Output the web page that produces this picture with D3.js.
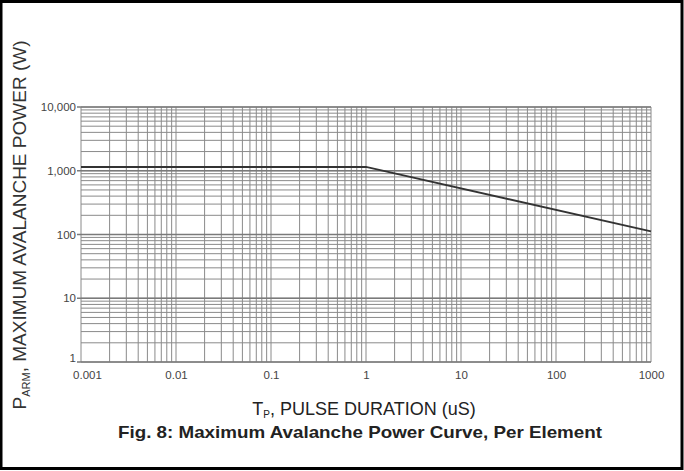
<!DOCTYPE html>
<html><head><meta charset="utf-8">
<script src="https://cdn.jsdelivr.net/npm/d3@7/dist/d3.min.js"></script>
<style>
html,body{margin:0;padding:0;background:#fff;}
svg{display:block;}
text{font-family:"Liberation Sans",Arial,sans-serif;}
</style></head>
<body>
<svg id="c" width="684" height="471"></svg>
<script>
// Data
const pulseDuration = [0.001, 1, 1000];      // uS
const avalanchePower = [1150, 1150, 112];     // W
const xTickValues = [0.001, 0.01, 0.1, 1, 10, 100, 1000];
const xTickLabels = ["0.001", "0.01", "0.1", "1", "10", "100", "1000"];
const yTickValues = [1, 10, 100, 1000, 10000];
const yTickLabels = ["1", "10", "100", "1,000", "10,000"];

(function () {
const svg = d3.select("#c");
const pl = 81, pr = 651, pt = 107, pb = 362;

const x = d3.scaleLog().domain([0.001, 1000]).range([pl, pr]);
const y = d3.scaleLog().domain([1, 10000]).range([pb, pt]);

// border
svg.append("rect").attr("x", 1).attr("y", 1.5).attr("width", 681).attr("height", 467)
  .attr("fill", "none").attr("stroke", "#000").attr("stroke-width", 3);

// grid lines
const minorX = [], minorY = [];
for (let e = -3; e < 3; e++) for (let m = 1; m <= 9; m++) minorX.push(m * Math.pow(10, e));
minorX.push(1000);
for (let e = 0; e < 4; e++) for (let m = 1; m <= 9; m++) minorY.push(m * Math.pow(10, e));
minorY.push(10000);

const g = svg.append("g");
g.selectAll("line.vx").data(minorX).enter().append("line")
  .attr("x1", d => x(d)).attr("x2", d => x(d)).attr("y1", pt).attr("y2", pb)
  .attr("stroke", "#8a8a8a").attr("stroke-width", 1);
g.selectAll("line.hy").data(minorY).enter().append("line")
  .attr("y1", d => y(d)).attr("y2", d => y(d)).attr("x1", pl).attr("x2", pr)
  .attr("stroke", "#8a8a8a").attr("stroke-width", 1);
g.selectAll("line.my").data(yTickValues).enter().append("line")
  .attr("y1", d => y(d)).attr("y2", d => y(d)).attr("x1", pl - 4).attr("x2", pr)
  .attr("stroke", "#7a7a7a").attr("stroke-width", 1.5);

// axes
const xAxis = d3.axisBottom(x).tickValues(xTickValues)
  .tickFormat((d, i) => xTickLabels[i]).tickSize(0).tickPadding(9);
const yAxis = d3.axisLeft(y).tickValues(yTickValues)
  .tickFormat((d, i) => yTickLabels[i]).tickSize(0).tickPadding(4);
const gx = svg.append("g").attr("transform", `translate(0,${pb})`).call(xAxis);
const gy = svg.append("g").attr("transform", `translate(${pl - 1},0)`).call(yAxis);
[gx, gy].forEach(a => {
  a.select(".domain").remove();
  a.selectAll("text").attr("font-size", 11.5).attr("fill", "#444")
    .attr("font-family", "Liberation Sans, Arial, sans-serif");
});
gx.selectAll(".tick").filter(d => d === 0.001).select("text").attr("dx", 6);
gy.selectAll(".tick").filter(d => d === 1).select("text").attr("dy", "-0.05em");

// curve
const line = d3.line().x((d, i) => x(pulseDuration[i])).y(d => y(d));
svg.append("path").datum(avalanchePower).attr("d", line)
  .attr("fill", "none").attr("stroke", "#333").attr("stroke-width", 2);

// Y label
const yl = svg.append("text").attr("transform", "translate(26,225) rotate(-90)")
  .attr("text-anchor", "middle").attr("font-size", 19).attr("fill", "#333");
yl.append("tspan").text("P");
yl.append("tspan").attr("font-size", 11).attr("dy", 4).text("ARM");
yl.append("tspan").attr("dy", -4).text(", MAXIMUM AVALANCHE POWER (W)");

// X label
const xl = svg.append("text").attr("x", 364).attr("y", 415)
  .attr("text-anchor", "middle").attr("font-size", 18).attr("fill", "#222");
xl.append("tspan").text("T");
xl.append("tspan").attr("font-size", 10).attr("dy", 3).text("P");
xl.append("tspan").attr("dy", -3).text(", PULSE DURATION (uS)");

// caption
svg.append("text").attr("x", 360).attr("y", 438).attr("text-anchor", "middle")
  .attr("font-size", 16.5).attr("font-weight", "bold").attr("fill", "#222")
  .attr("textLength", 484).attr("lengthAdjust", "spacingAndGlyphs")
  .text("Fig. 8: Maximum Avalanche Power Curve, Per Element");
})();
</script>
</body></html>
